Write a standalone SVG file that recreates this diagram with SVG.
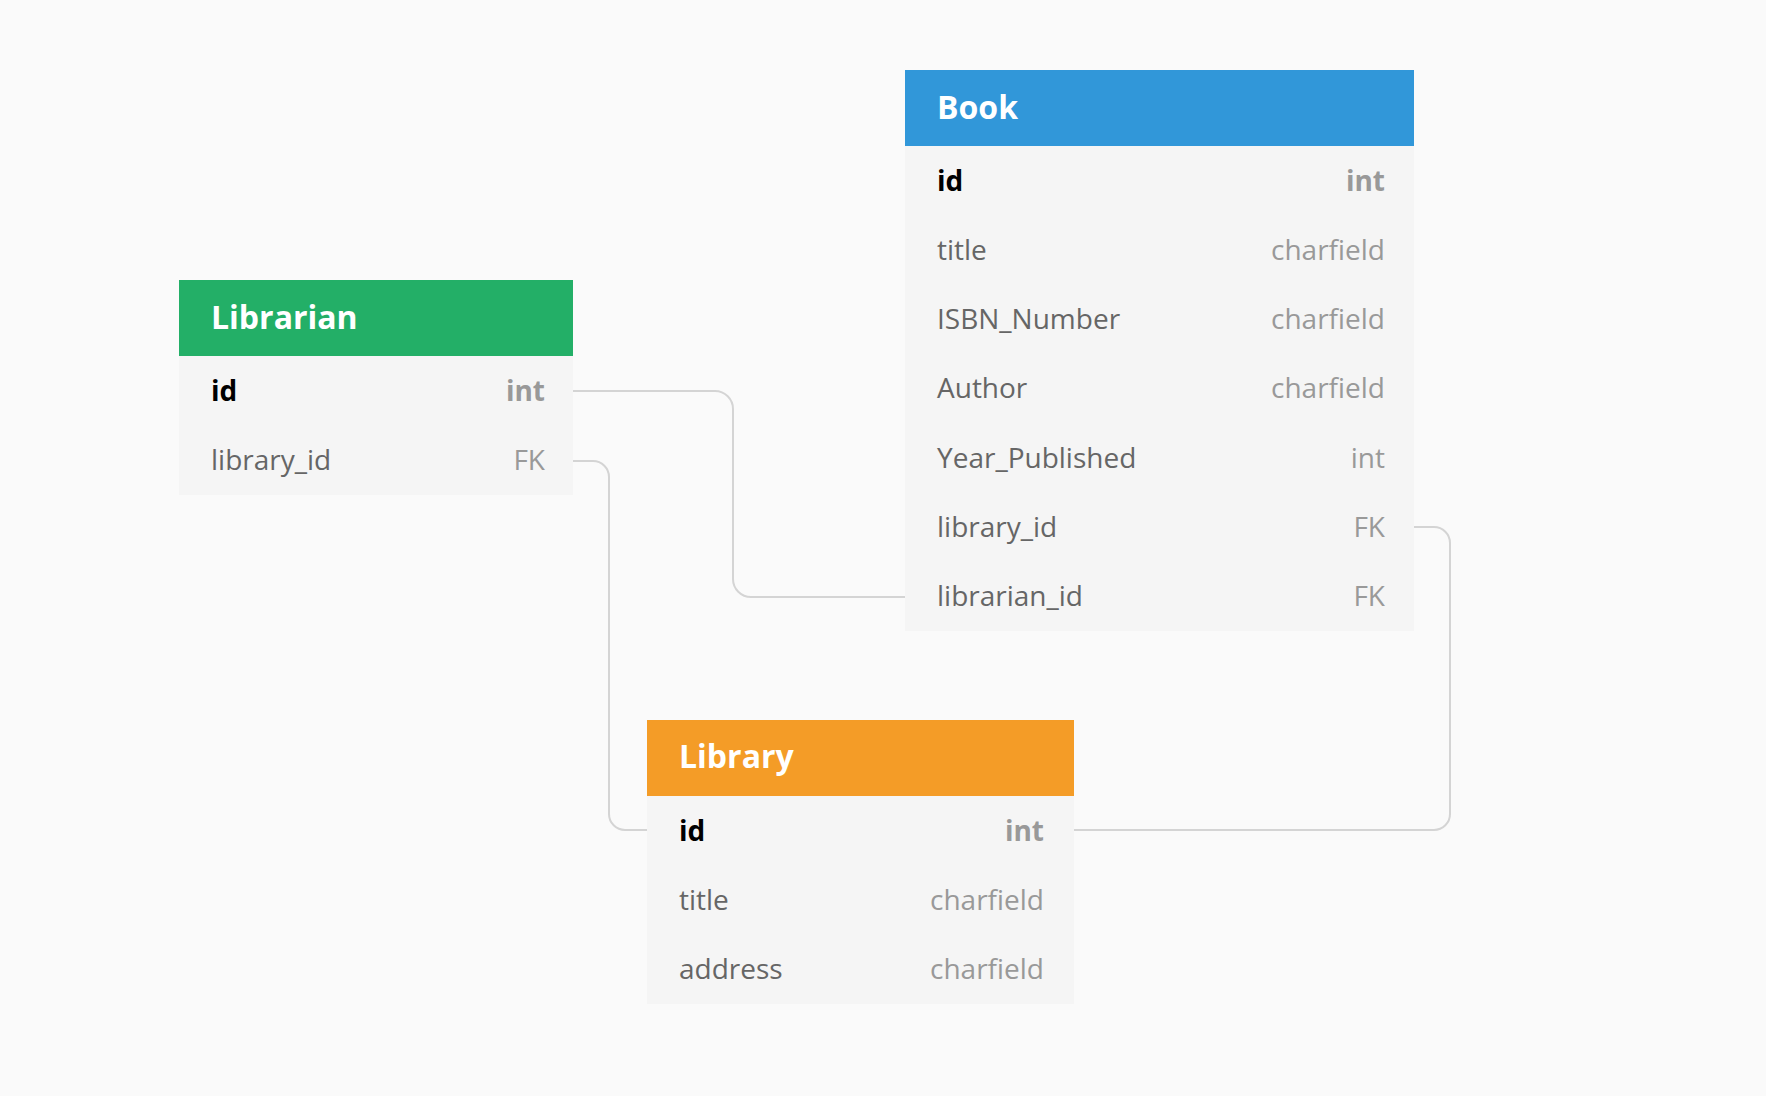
<svg xmlns="http://www.w3.org/2000/svg" width="1766" height="1096" viewBox="0 0 1766 1096">
<style>
.bg{fill:#fafafa}
.body{fill:#f5f5f5}
.hdr{font-family:"Open Sans","Noto Sans",sans-serif;font-weight:700;font-size:32px;fill:#ffffff}
.pk{font-family:"Open Sans","Noto Sans",sans-serif;font-weight:700;font-size:28px;fill:#000000}
.pkt{font-family:"Open Sans","Noto Sans",sans-serif;font-weight:700;font-size:28px;fill:#999999;text-anchor:end}
.f{font-family:"Open Sans","Noto Sans",sans-serif;font-size:28px;fill:#666666}
.t{font-family:"Open Sans","Noto Sans",sans-serif;font-size:28px;fill:#999999;text-anchor:end}
.conn{fill:none;stroke:#d4d4d4;stroke-width:2}
</style>
<rect class="bg" x="0" y="0" width="1766" height="1096"/>
<g id="connectors">
<path class="conn" d="M573 391 H715 A18 18 0 0 1 733 409 V579 A18 18 0 0 0 751 597 H905"/>
<path class="conn" d="M573 461 H593 A16 16 0 0 1 609 477 V814 A16 16 0 0 0 625 830 H647"/>
<path class="conn" d="M1414 527 H1434 A16 16 0 0 1 1450 543 V814 A16 16 0 0 1 1434 830 H1074"/>
</g>
<g id="librarian">
<rect class="body" x="179" y="356" width="394" height="139"/>
<rect x="179" y="280" width="394" height="76" fill="#23af67"/>
<text class="hdr" x="211" y="329">Librarian</text>
<text class="pk" x="211" y="401">id</text>
<text class="pkt" x="545" y="401">int</text>
<text class="f" x="211" y="470">library_id</text>
<text class="t" x="545" y="470">FK</text>
</g>
<g id="book">
<rect class="body" x="905" y="146" width="509" height="485"/>
<rect x="905" y="70" width="509" height="76" fill="#3197d9"/>
<text class="hdr" x="937" y="119">Book</text>
<text class="pk" x="937" y="191">id</text>
<text class="pkt" x="1385" y="191">int</text>
<text class="f" x="937" y="260">title</text>
<text class="t" x="1385" y="260">charfield</text>
<text class="f" x="937" y="329">ISBN_Number</text>
<text class="t" x="1385" y="329">charfield</text>
<text class="f" x="937" y="398">Author</text>
<text class="t" x="1385" y="398">charfield</text>
<text class="f" x="937" y="468">Year_Published</text>
<text class="t" x="1385" y="468">int</text>
<text class="f" x="937" y="537">library_id</text>
<text class="t" x="1385" y="537">FK</text>
<text class="f" x="937" y="606">librarian_id</text>
<text class="t" x="1385" y="606">FK</text>
</g>
<g id="library">
<rect class="body" x="647" y="796" width="427" height="208"/>
<rect x="647" y="720" width="427" height="76" fill="#f49c27"/>
<text class="hdr" x="679" y="768">Library</text>
<text class="pk" x="679" y="841">id</text>
<text class="pkt" x="1044" y="841">int</text>
<text class="f" x="679" y="910">title</text>
<text class="t" x="1044" y="910">charfield</text>
<text class="f" x="679" y="979">address</text>
<text class="t" x="1044" y="979">charfield</text>
</g>
</svg>
